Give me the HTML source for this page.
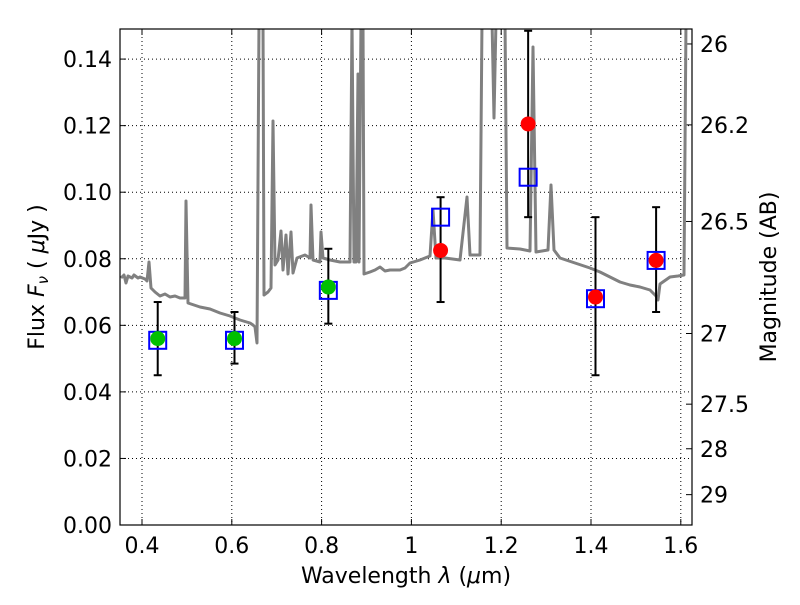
<!DOCTYPE html>
<html><head><meta charset="utf-8"><style>
body{margin:0;background:#fff;font-family:"Liberation Sans","DejaVu Sans",sans-serif}
svg text{font-family:"DejaVu Sans","Liberation Sans",sans-serif;font-size:22px;fill:#000}
</style></head><body>
<svg id="c" width="800" height="600" xmlns="http://www.w3.org/2000/svg"></svg>
<script>
const xTicks=[0.4,0.6,0.8,1.0,1.2,1.4,1.6];
const xTickLabels=["0.4","0.6","0.8","1","1.2","1.4","1.6"];
const yTicks=[0,0.02,0.04,0.06,0.08,0.10,0.12,0.14];
const yTickLabels=["0.00","0.02","0.04","0.06","0.08","0.10","0.12","0.14"];
const magTicks=[26,26.2,26.5,27,27.5,28,29];
const magTickLabels=["26","26.2","26.5","27","27.5","28","29"];
const greenWl=[0.435,0.606,0.815];
const greenFlux=[0.056,0.056,0.0715];
const redWl=[1.065,1.26,1.41,1.545];
const redFlux=[0.0825,0.1205,0.0685,0.0795];
const errWl=[0.435,0.606,0.815,1.065,1.26,1.41,1.545];
const errLo=[0.045,0.0485,0.0605,0.067,0.0925,0.045,0.064];
const errHi=[0.067,0.064,0.083,0.0985,0.1485,0.0925,0.0955];
const modelWl=[0.435,0.606,0.815,1.065,1.26,1.41,1.545];
const modelFlux=[0.0555,0.0555,0.0705,0.0925,0.1045,0.068,0.0795];
const specPx=[[121,278],[124,275],[126,283],[128,276],[132,278],[134,275],[138,278],[140,277],[145,279],[147,281],[149,262],[151,288],[155,292],[160,296],[165,294],[170,297],[175,296],[180,298],[185,298],[186,201],[188,303],[200,307],[210,309],[220,313],[230,316],[240,320],[250,323],[253,325],[255,327],[257,343],[259,20],[263,20],[264,295],[268,292],[271,288],[273,121],[275,265],[278,260],[281,231],[283,270],[286,235],[288,274],[291,232],[293,273],[297,258],[305,255],[310,258],[311,205],[313,260],[320,262],[321,232],[323,258],[330,260],[340,262],[350,262],[352,20],[354,262],[356,262],[358,74],[359,262],[361,20],[363,20],[364,274],[370,272],[375,270],[380,267],[385,271],[390,270],[400,270],[405,268],[410,263],[420,260],[430,256],[433,210],[436,258],[445,258],[460,260],[467,197],[470,255],[480,255],[482,20],[492,20],[494,118],[496,20],[505,20],[507,248],[520,249],[530,251],[533,47],[536,252],[548,250],[551,185],[554,250],[560,258],[575,263],[590,268],[600,272],[610,277],[620,282],[630,285],[640,287],[650,290],[656,296],[658,300],[660,284],[670,277],[678,276],[684,275],[686,20]];
const X0=120,X1=692,Y0=525,Y1=29;
const xs=v=>142+(v-0.4)*449;
const ys=v=>525-v*3328;
const specWl=specPx.map(p=>(p[0]-142)/449+0.4);
const specFlux=specPx.map(p=>(525-p[1])/3328);
const NS="http://www.w3.org/2000/svg";
const svg=document.getElementById('c');
function mk(t,a,p){const e=document.createElementNS(NS,t);for(const k in a)e.setAttribute(k,a[k]);(p||svg).appendChild(e);return e;}
const defs=mk('defs',{});const cp=mk('clipPath',{id:'clip'},defs);mk('rect',{x:X0,y:Y1,width:X1-X0,height:Y0-Y1},cp);
xTicks.forEach((t,i)=>{const g=mk('line',{x1:xs(t),x2:xs(t),y1:Y1,y2:Y0,stroke:'#000','stroke-width':1,'stroke-dasharray':'1,3'});


const tk=mk('line',{x1:xs(t),x2:xs(t),y1:Y0,y2:Y0-6,stroke:'#000'});


mk('line',{x1:xs(t),x2:xs(t),y1:Y1,y2:Y1+6,stroke:'#000'});
const tx=mk('text',{x:xs(t),y:Y0+28,'text-anchor':'middle'});tx.textContent=xTickLabels[i];

});
yTicks.forEach((t,i)=>{const g=mk('line',{x1:X0,x2:X1,y1:ys(t),y2:ys(t),stroke:'#000','stroke-width':1,'stroke-dasharray':'1,3'});


mk('line',{x1:X0,x2:X0+6,y1:ys(t),y2:ys(t),stroke:'#000'});
const tx=mk('text',{x:X0-8,y:ys(t)+8,'text-anchor':'end'});tx.textContent=yTickLabels[i];

});
magTicks.forEach((m,i)=>{const f=Math.pow(10,(23.9-m)/2.5);const y=ys(f);
const tk=mk('line',{x1:X1,x2:X1-6,y1:y,y2:y,stroke:'#000'});


const tx=mk('text',{x:X1+8,y:y+8,'text-anchor':'start'});tx.textContent=magTickLabels[i];

});
const sp=mk('polyline',{points:specWl.map((w,i)=>xs(w)+','+ys(specFlux[i])).join(' '),fill:'none',stroke:'#808080','stroke-width':3,'stroke-linejoin':'round','clip-path':'url(#clip)'});


errWl.forEach((w,i)=>{const x=xs(w);
const e=mk('line',{x1:x,x2:x,y1:ys(errLo[i]),y2:ys(errHi[i]),stroke:'#000','stroke-width':2});


[errLo[i],errHi[i]].forEach(v=>mk('line',{x1:x-4,x2:x+4,y1:ys(v),y2:ys(v),stroke:'#000','stroke-width':2}));});
modelWl.forEach((w,i)=>{const r=mk('rect',{x:xs(w)-8.5,y:ys(modelFlux[i])-8.5,width:17,height:17,fill:'none',stroke:'#0000ff','stroke-width':2});

});
greenWl.forEach((w,i)=>{const c=mk('circle',{cx:xs(w),cy:ys(greenFlux[i]),r:7.5,fill:'#00c000'});

});
redWl.forEach((w,i)=>{const c=mk('circle',{cx:xs(w),cy:ys(redFlux[i]),r:7.5,fill:'#ff0000'});

});
const fr=mk('rect',{x:X0,y:Y1,width:X1-X0,height:Y0-Y1,fill:'none',stroke:'#000','stroke-width':1.2});


</script>
<svg width="800" height="600" style="position:absolute;left:0;top:0;pointer-events:none" xmlns="http://www.w3.org/2000/svg">
<text x="406" y="583" text-anchor="middle" style="font-size:22px">Wavelength  <tspan font-style="italic">λ</tspan> (<tspan font-style="italic">μ</tspan>m)</text>
<text transform="translate(44,277) rotate(-90)" text-anchor="middle" style="font-size:22px">Flux  <tspan font-style="italic">F</tspan><tspan font-style="italic" font-size="15" dy="4">ν</tspan><tspan dy="-4">  ( </tspan><tspan font-style="italic">μ</tspan>Jy )</text>
<text transform="translate(776,277) rotate(-90)" text-anchor="middle" style="font-size:22px">Magnitude (AB)</text>
</svg>
</body></html>
